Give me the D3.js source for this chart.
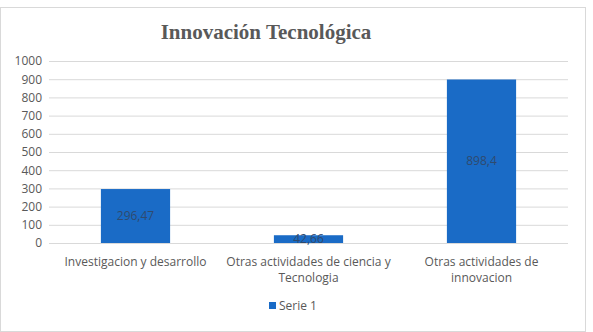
<!DOCTYPE html>
<html><head><meta charset="utf-8">
<script src="https://cdn.jsdelivr.net/npm/d3@7"></script>
<style>body{margin:0;background:#fff}svg{display:block}</style>
</head><body>
<script>
const categories = [["Investigacion y desarrollo"], ["Otras actividades de ciencia y", "Tecnologia"], ["Otras actividades de", "innovacion"]];
const values = [296.47, 42.66, 898.4];
const valueLabels = ["296,47", "42,66", "898,4"];
const yTicks = [0,100,200,300,400,500,600,700,800,900,1000];
const seriesName = "Serie 1";
const title = "Innovación Tecnológica";

const W = 593, H = 332;
const svg = d3.select("body").append("svg").attr("width", W).attr("height", H);
svg.append("rect").attr("x",0.5).attr("y",7.5).attr("width",585).attr("height",H-8)
  .attr("fill","#fff").attr("stroke","#d9d9d9");

const m = {left:49, right:568, top:61, bottom:243};
const x = d3.scaleBand().domain(d3.range(categories.length)).range([m.left, m.right]).paddingInner(0.6).paddingOuter(0.3);
const y = d3.scaleLinear().domain([0,1000]).range([m.bottom, m.top]);

svg.append("text").attr("x",266).attr("y",39).attr("text-anchor","middle")
  .attr("font-family","Liberation Serif, serif").attr("font-weight","bold").attr("font-size",21)
  .attr("fill","#595959").text(title);

const yAxis = svg.append("g").attr("transform",`translate(${m.left},0)`)
  .call(d3.axisLeft(y).tickValues(yTicks).tickFormat(d3.format("d")).tickSize(-(m.right-m.left)).tickPadding(7));
yAxis.select(".domain").remove();
yAxis.selectAll(".tick line").attr("stroke","#d9d9d9");
yAxis.selectAll(".tick text").attr("fill","#595959").attr("font-family","Open Sans, sans-serif").attr("font-size",12);

svg.selectAll("rect.bar").data(values).join("rect").attr("class","bar")
  .attr("x",(d,i)=>x(i)).attr("width",x.bandwidth())
  .attr("y",d=>y(d)).attr("height",d=>y(0)-y(d)).attr("fill","#1a6bc6");

svg.selectAll("text.vl").data(values).join("text").attr("class","vl")
  .attr("x",(d,i)=>x(i)+x.bandwidth()/2).attr("y",d=>(y(d)+y(0))/2+4)
  .attr("text-anchor","middle").attr("font-family","Open Sans, sans-serif").attr("font-size",12)
  .attr("fill","#2f4a6e").text((d,i)=>valueLabels[i]);

const cl = svg.selectAll("text.cl").data(categories).join("text").attr("class","cl")
  .attr("text-anchor","middle").attr("font-family","Open Sans, sans-serif").attr("font-size",12).attr("fill","#595959");
cl.each(function(lines,i){
  d3.select(this).selectAll("tspan").data(lines).join("tspan")
    .attr("x", x(i)+x.bandwidth()/2).attr("y",(d,j)=>266+j*16).text(d=>d);
});

svg.append("rect").attr("x",269).attr("y",302).attr("width",7).attr("height",7).attr("fill","#1a6bc6");
svg.append("text").attr("x",279).attr("y",310).attr("font-family","Open Sans, sans-serif").attr("font-size",12)
  .attr("fill","#595959").text(seriesName);
</script>
</body></html>
